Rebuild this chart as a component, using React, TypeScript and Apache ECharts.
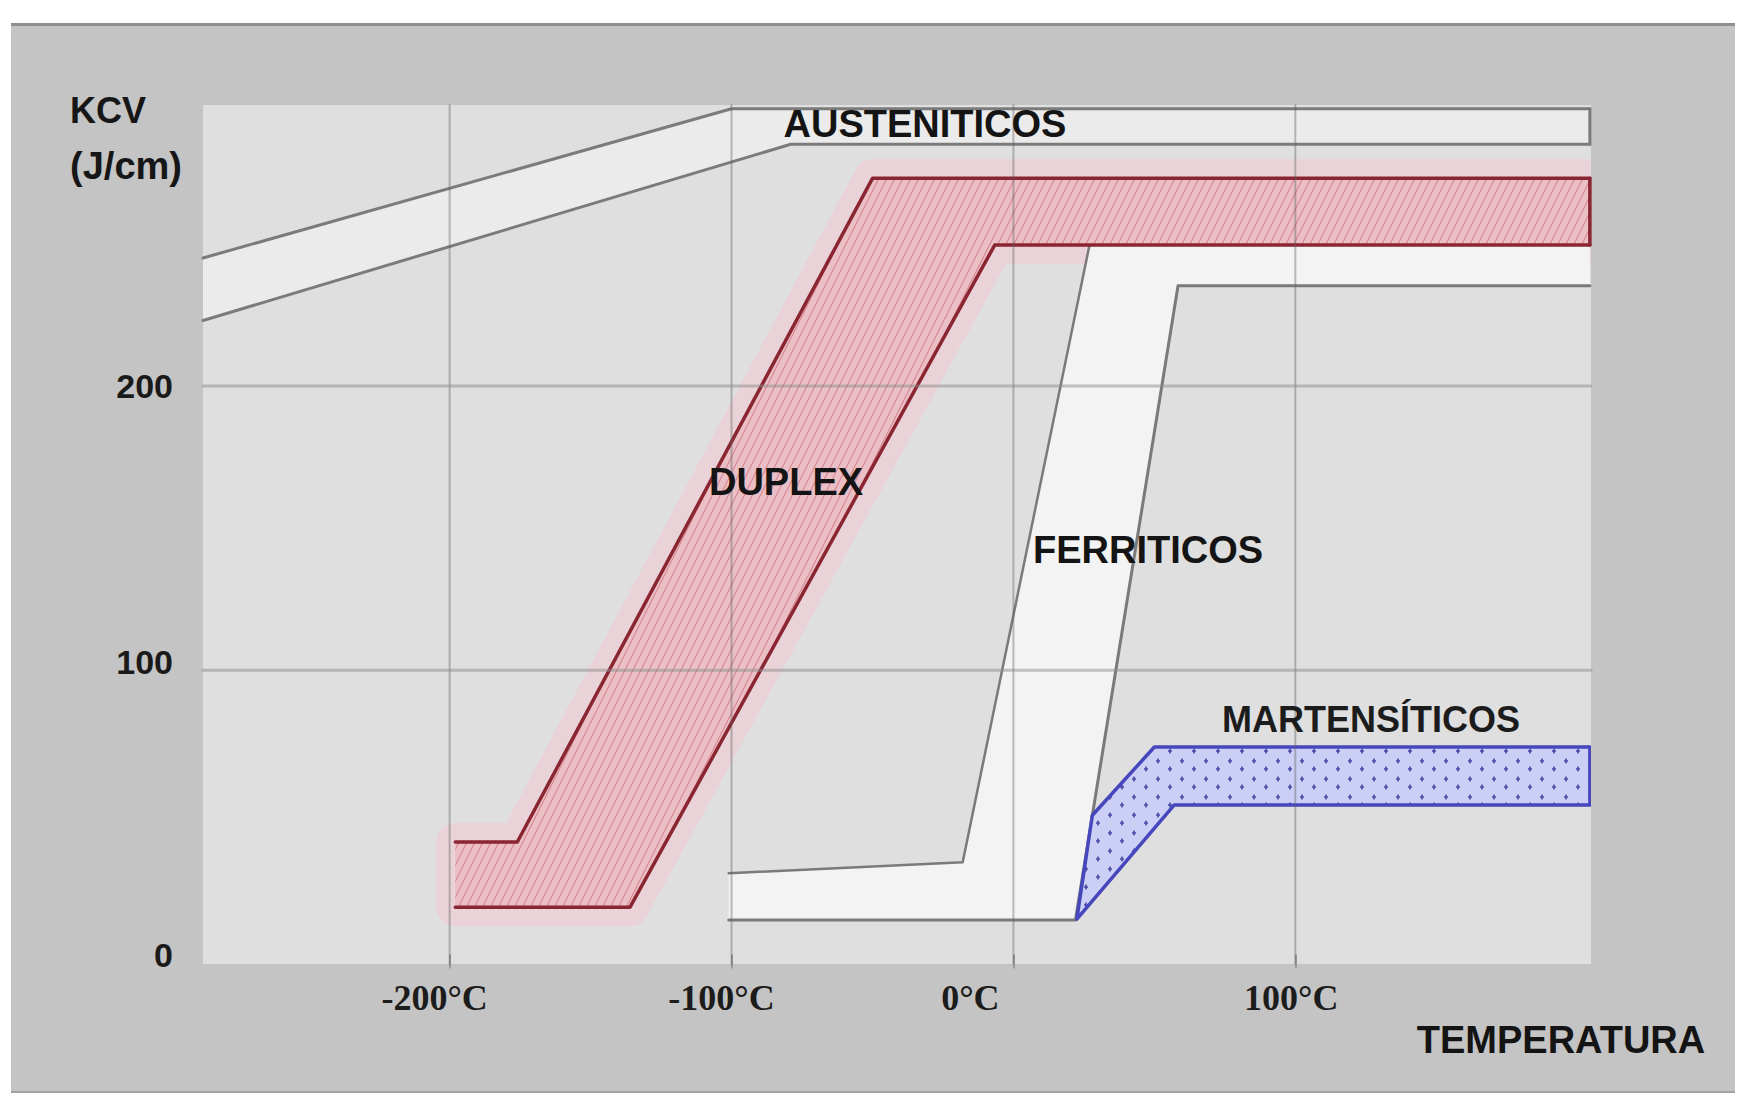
import React, { useEffect, useRef } from 'react';
import * as echarts from 'echarts';

// ---- axes ----
const xTickValues = [-200, -100, 0, 100];
const xTickLabels = ['-200°C', '-100°C', '0°C', '100°C'];
const yTickValues = [0, 100, 200];
const yTickLabels = ['0', '100', '200'];
const xRange = [-287.5, 204.9];
const yRange = [-3.3, 298.8];

// ---- band boundaries: [temperature °C, KCV J/cm] ----
const austeniticUpper = [[-287.5, 245], [-100, 297.5], [204.5, 297.5]];
const austeniticLower = [[-287.5, 223], [-79, 285], [204.5, 285]];
const duplexUpper = [[-198, 39.6], [-176, 39.6], [-50, 273], [204.5, 273]];
const duplexLower = [[-198, 16.7], [-136, 16.7], [-6.6, 249.6], [204.5, 249.6]];
const ferriticUpper = [[-101, 28.6], [-18, 32.5], [27, 249.6]];
const ferriticTop = [[27, 249.6], [204.5, 249.6]];
const ferriticLower = [[-101, 12.2], [22, 12.2], [58.4, 235.2], [204.5, 235.2]];
const martensiticUpper = [[28, 49], [50, 73], [204.5, 73]];
const martensiticLower = [[22.5, 12.5], [57, 52.6], [204.5, 52.6]];

// ---- texts ----
const bandNames = ['AUSTENITICOS', 'DUPLEX', 'FERRITICOS', 'MARTENSÍTICOS'];
const yAxisTitle = ['KCV', '(J/cm)'];
const xAxisTitle = 'TEMPERATURA';

const SANS = '"Liberation Sans", Arial, sans-serif';
const SERIF = '"Liberation Serif", "Times New Roman", serif';

function band(upper: number[][], lower: number[][]) {
  return [...upper, ...lower.slice().reverse()];
}

function makeHatch() {
  const w = 8, h = 16;
  const c = document.createElement('canvas');
  c.width = w; c.height = h;
  const g = c.getContext('2d')!;
  g.fillStyle = '#eac0c6';
  g.fillRect(0, 0, w, h);
  g.strokeStyle = 'rgba(200,80,100,0.5)';
  g.lineWidth = 1.2;
  g.beginPath();
  g.moveTo(0, h); g.lineTo(w, 0);
  g.moveTo(-w, h); g.lineTo(0, 0);
  g.moveTo(w, h); g.lineTo(2 * w, 0);
  g.stroke();
  return { image: c.toDataURL(), repeat: 'repeat', imageWidth: w, imageHeight: h };
}

function makeDots() {
  const w = 24, h = 18;
  const c = document.createElement('canvas');
  c.width = w; c.height = h;
  const g = c.getContext('2d')!;
  g.fillStyle = '#cccff5';
  g.fillRect(0, 0, w, h);
  g.strokeStyle = 'rgba(50,50,150,0.85)';
  g.lineWidth = 1.6;
  const marks = [[6, 5], [18, 13]];
  g.beginPath();
  marks.forEach(([x, y]) => {
    g.moveTo(x - 2, y); g.lineTo(x + 2, y);
    g.moveTo(x, y - 2.5); g.lineTo(x, y + 2.5);
  });
  g.stroke();
  return { image: c.toDataURL(), repeat: 'repeat', imageWidth: w, imageHeight: h };
}

function polygonSeries(points: number[][], style: any, z: number) {
  return {
    type: 'custom',
    z,
    clip: true,
    silent: true,
    data: [0],
    renderItem: (_p: any, api: any) => ({
      type: 'polygon',
      shape: { points: points.map((pt) => api.coord(pt)) },
      style,
    }),
  };
}

function lineSeries(data: number[][], color: string, width: number, z: number) {
  return {
    type: 'line',
    data,
    z,
    silent: true,
    symbol: 'none',
    lineStyle: { color, width, cap: 'round', join: 'round' },
  };
}

function lastOf(a: number[][]) {
  return a[a.length - 1];
}

export default function App() {
  const ref = useRef<HTMLDivElement>(null);

  useEffect(() => {
    if (!ref.current) return;
    const chart = echarts.init(ref.current, null, { renderer: 'svg' });

    const hatch = makeHatch();
    const dots = makeDots();
    const xShift = [30, 20, 86, 8];

    const xRich: any = {};
    xTickLabels.forEach((_, i) => {
      xRich['l' + i] = {
        fontFamily: SERIF, fontSize: 36, fontWeight: 'bold', color: '#1c1c1c',
        padding: [0, xShift[i], 0, 0],
      };
    });
    const yRich: any = {
      n: { fontFamily: SANS, fontSize: 34, fontWeight: 'bold', color: '#1a1a1a' },
      u: { fontFamily: SANS, fontSize: 34, fontWeight: 'bold', color: '#1a1a1a', padding: [0, 0, 16, 0] },
    };

    const gridV = xTickValues.map((v) => lineSeries([[v, yRange[0]], [v, yRange[1]]], 'rgba(95,95,95,0.4)', 2, 20));
    const gridH = yTickValues
      .filter((v) => v > 0)
      .map((v) => lineSeries([[xRange[0], v], [xRange[1], v]], 'rgba(140,140,140,0.5)', 3, 20));

    const option: any = {
      animation: false,
      backgroundColor: 'transparent',
      grid: {
        left: 203, top: 105, width: 1388, height: 859,
        show: true, backgroundColor: '#dfdfdf', borderWidth: 0,
      },
      xAxis: {
        type: 'value',
        min: xRange[0],
        max: xRange[1],
        axisLine: { show: false },
        splitLine: { show: false },
        axisTick: { show: true, customValues: xTickValues, length: 14, lineStyle: { color: '#9c9c9c', width: 2 } },
        axisLabel: {
          customValues: xTickValues,
          margin: 16,
          fontFamily: SERIF, fontSize: 36, fontWeight: 'bold', color: '#1c1c1c',
          formatter: (v: number) => {
            const i = xTickValues.indexOf(v);
            return i < 0 ? '' : `{l${i}|${xTickLabels[i]}}`;
          },
          rich: xRich,
        },
      },
      yAxis: {
        type: 'value',
        min: yRange[0],
        max: yRange[1],
        axisLine: { show: false },
        axisTick: { show: false },
        splitLine: { show: false },
        axisLabel: {
          customValues: yTickValues,
          margin: 30,
          fontFamily: SANS, fontSize: 34, fontWeight: 'bold', color: '#1a1a1a',
          formatter: (v: number) => {
            const i = yTickValues.indexOf(v);
            if (i < 0) return '';
            return v === 100 ? `{u|${yTickLabels[i]}}` : `{n|${yTickLabels[i]}}`;
          },
          rich: yRich,
        },
      },
      series: [
        polygonSeries(band(austeniticUpper, austeniticLower), { fill: '#ebebeb' }, 2),
        lineSeries(austeniticUpper, '#7b7b7b', 3, 3),
        lineSeries(austeniticLower, '#7b7b7b', 3, 3),
        lineSeries([lastOf(austeniticLower), lastOf(austeniticUpper)], '#7b7b7b', 3, 3),

        polygonSeries(band(duplexUpper, duplexLower), {
          fill: 'rgba(236,208,214,0.8)', stroke: 'rgba(236,208,214,0.8)', lineWidth: 38, lineJoin: 'round',
        }, 4),

        polygonSeries([...ferriticUpper, ...ferriticTop.slice(1), ...ferriticLower.slice().reverse()], { fill: '#f3f3f3' }, 5),
        lineSeries(ferriticUpper, '#7a7a7a', 2.5, 6),
        lineSeries(ferriticLower, '#7a7a7a', 3, 6),

        polygonSeries(band(duplexUpper, duplexLower), { fill: hatch }, 7),
        lineSeries(duplexUpper, '#8a2532', 3.5, 8),
        lineSeries(duplexLower, '#8a2532', 3.5, 8),
        lineSeries([lastOf(duplexLower), lastOf(duplexUpper)], '#8a2532', 3.5, 8),

        polygonSeries(band(martensiticUpper, martensiticLower), {
          fill: dots, stroke: '#4646bd', lineWidth: 3.5, lineJoin: 'round',
        }, 9),

        ...gridV,
        ...gridH,
      ],
      graphic: [
        { type: 'text', x: 108, y: 110, z: 100, style: { text: yAxisTitle[0], font: `bold 36px ${SANS}`, fill: '#161616', textAlign: 'center', textVerticalAlign: 'middle' } },
        { type: 'text', x: 126, y: 166, z: 100, style: { text: yAxisTitle[1], font: `bold 38px ${SANS}`, fill: '#161616', textAlign: 'center', textVerticalAlign: 'middle' } },
        { type: 'text', x: 925, y: 124, z: 100, style: { text: bandNames[0], font: `bold 38px ${SANS}`, fill: '#141414', textAlign: 'center', textVerticalAlign: 'middle' } },
        { type: 'text', x: 786, y: 482, z: 100, style: { text: bandNames[1], font: `bold 38px ${SANS}`, fill: '#141414', textAlign: 'center', textVerticalAlign: 'middle' } },
        { type: 'text', x: 1148, y: 550, z: 100, style: { text: bandNames[2], font: `bold 38px ${SANS}`, fill: '#141414', textAlign: 'center', textVerticalAlign: 'middle' } },
        { type: 'text', x: 1371, y: 719, z: 100, style: { text: bandNames[3], font: `bold 36px ${SANS}`, fill: '#1c1c1c', textAlign: 'center', textVerticalAlign: 'middle' } },
        { type: 'text', x: 1561, y: 1040, z: 100, style: { text: xAxisTitle, font: `bold 38px ${SANS}`, fill: '#141414', textAlign: 'center', textVerticalAlign: 'middle' } },
      ],
    };

    chart.setOption(option);
    return () => chart.dispose();
  }, []);

  return (
    <div style={{ position: 'fixed', left: 0, top: 0, width: 1738, height: 1100, background: '#ffffff', overflow: 'hidden' }}>
      <div
        style={{
          position: 'absolute', left: 11, top: 23, width: 1724, height: 1070,
          background: '#c4c4c4', borderTop: '3px solid #8f8f8f', borderBottom: '2px solid #a2a2a2',
          boxSizing: 'border-box',
        }}
      />
      <div ref={ref} style={{ position: 'absolute', left: 0, top: 0, width: 1738, height: 1100 }} />
    </div>
  );
}
